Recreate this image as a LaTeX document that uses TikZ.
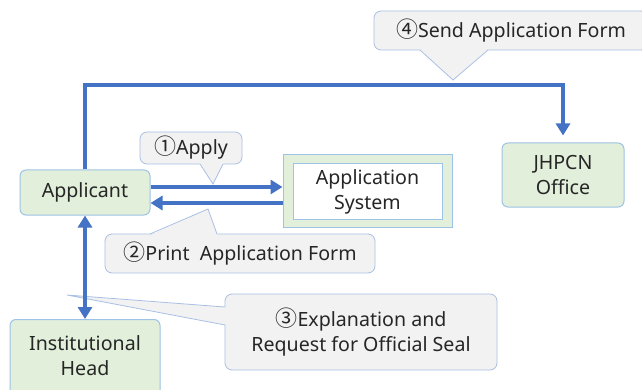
\documentclass[tikz,border=0pt]{standalone}
\usepackage{fontspec}
\setmainfont{Noto Sans}
\newfontfamily\cjk{Noto Sans CJK JP}
\newcommand{\circnum}[1]{{\cjk\fontsize{22}{25}\selectfont #1}}
\usetikzlibrary{arrows.meta,calc}
\definecolor{flow}{HTML}{4472C4}
\definecolor{boxfill}{HTML}{E2EFDA}
\definecolor{boxedge}{HTML}{9DC3E6}
\definecolor{callfill}{HTML}{F2F2F2}
\definecolor{calledge}{HTML}{A9BFE3}
\tikzset{
  entity/.style={draw=boxedge, fill=boxfill, rounded corners=6pt, line width=1pt},
  callout/.style={draw=calledge, fill=callfill, rounded corners=7pt, line width=0.8pt},
  flowarrow/.style={draw=flow, line width=4pt, -{Triangle[width=14pt,length=12pt]}},
  pointerfill/.style={fill=callfill},
  pointeredge/.style={draw=calledge, line width=0.8pt},
}
\begin{document}
\begin{tikzpicture}[x=1pt,y=-1pt,
  every node/.style={font=\fontsize{19.6}{25}\selectfont, align=center, inner sep=0pt, text=black!85}]
\clip (0,0) rectangle (642,390);
\useasboundingbox (0,0) rectangle (642,390);

% callouts
\node[callout, minimum width=102pt, minimum height=32pt] (c1) at (191,148) {\circnum{①}Apply};
\node[callout, minimum width=270pt, minimum height=39pt] (c2) at (240,253.5) {\circnum{②}Print\ \ Application Form};
\node[callout, minimum width=272pt, minimum height=76pt] (c3) at (361,332) {\circnum{③}Explanation and\\Request for Official Seal};
\node[callout, minimum width=274pt, minimum height=39pt] (c4) at (511,30.5) {\circnum{④}Send Application Form};

% callout pointers
\coordinate (t1) at (213,184);
\coordinate (t2) at (208,209);
\coordinate (t3) at (67,295);
\coordinate (t4) at (453,80);
\fill[pointerfill] (t1) -- (198.7,162) -- (224.1,162) -- cycle;
\draw[pointeredge] (200,164) -- (t1) -- (223,164);
\fill[pointerfill] (t2) -- (148,236) -- (218,236) -- cycle;
\draw[pointeredge] (150,234) -- (t2) -- (217,234);
\fill[pointerfill] (t3) -- (228,307.2) -- (228,325.3) -- cycle;
\draw[pointeredge] (225,307) -- (t3) -- (225,325);
\fill[pointerfill] (t4) -- (419,48) -- (489,48) -- cycle;
\draw[pointeredge] (420,50) -- (t4) -- (488,50);

% actors and system
\node[entity, minimum width=130pt, minimum height=45pt] (app) at (85,192.5) {Applicant};
\node[entity, rounded corners=0pt, minimum width=169pt, minimum height=72pt] (sys) at (367.5,191) {};
\node[draw=boxedge, line width=1pt, fill=white, minimum width=149pt, minimum height=55pt] (sysin) at (367.5,191.5) {Application\\System};
\node[entity, minimum width=122pt, minimum height=64pt] (jh) at (563,175) {JHPCN\\Office};
\node[entity, anchor=north, minimum width=150pt, minimum height=100pt] (headbox) at (85,319) {};
\node (head) at (85,356) {Institutional\\Head};

% flows
\coordinate (top) at (0,85);
\draw[flowarrow, shorten >=7pt] (app.north) -- (app.north |- top) -| (jh.north);
\draw[flowarrow] ([yshift=5.5pt]app.east) -- ([yshift=5.5pt]app.east -| sys.west);
\draw[flowarrow] ([yshift=-10.5pt]app.east -| sys.west) -- ([yshift=-10.5pt]app.east);
\draw[flowarrow, {Triangle[width=14pt,length=12pt]}-{Triangle[width=14pt,length=12pt]}] (app.south) -- (headbox.north);
\end{tikzpicture}
\end{document}
